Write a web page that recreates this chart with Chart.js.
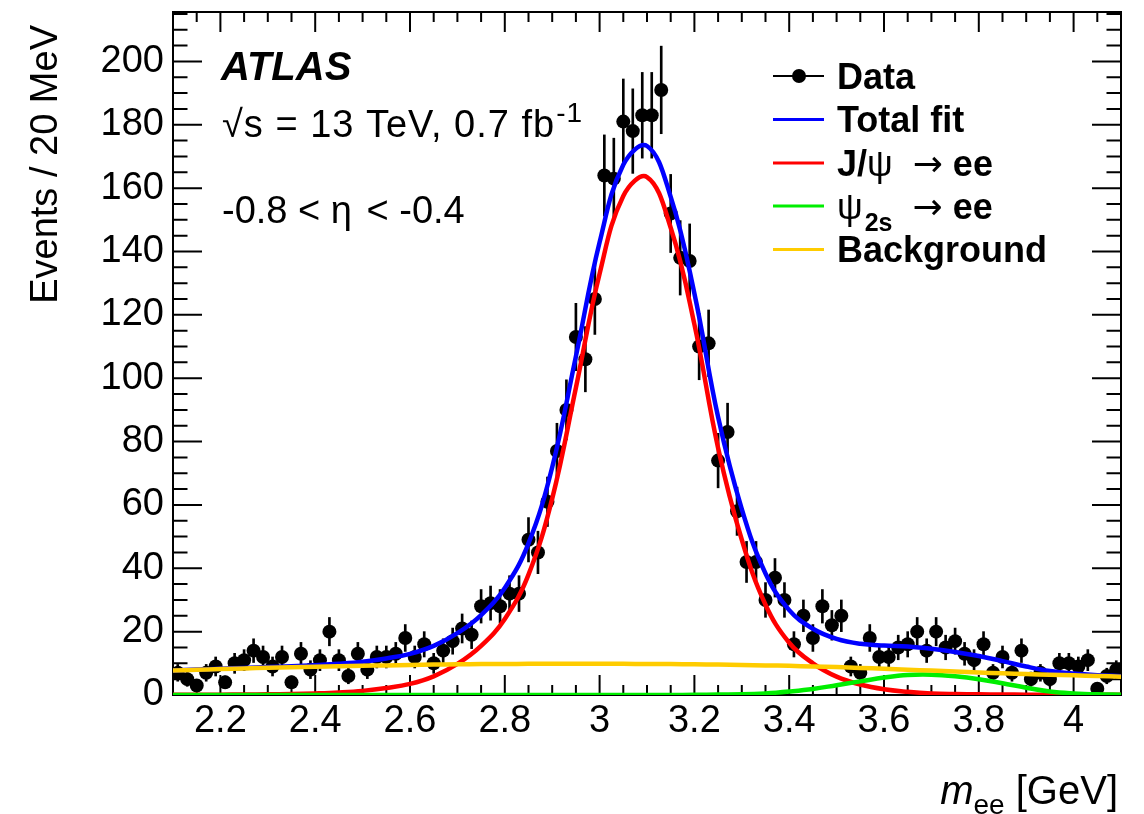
<!DOCTYPE html>
<html>
<head>
<meta charset="utf-8">
<script src="https://cdn.jsdelivr.net/npm/chart.js@4.4.1/dist/chart.umd.min.js"></script>
<style>
  html, body { margin: 0; padding: 0; background: #fff; }
  #wrap { width: 1144px; height: 814px; }
</style>
</head>
<body>
<div id="wrap"><canvas id="massChart" width="1144" height="814"></canvas></div>
<script>
const FONT = '"Liberation Sans", Arial, Helvetica, sans-serif';

// 20 MeV bins, centres in GeV
const massBins = [
  2.11, 2.13, 2.15, 2.17, 2.19, 2.21, 2.23, 2.25, 2.27, 2.29,
  2.31, 2.33, 2.35, 2.37, 2.39, 2.41, 2.43, 2.45, 2.47, 2.49,
  2.51, 2.53, 2.55, 2.57, 2.59, 2.61, 2.63, 2.65, 2.67, 2.69,
  2.71, 2.73, 2.75, 2.77, 2.79, 2.81, 2.83, 2.85, 2.87, 2.89,
  2.91, 2.93, 2.95, 2.97, 2.99, 3.01, 3.03, 3.05, 3.07, 3.09,
  3.11, 3.13, 3.15, 3.17, 3.19, 3.21, 3.23, 3.25, 3.27, 3.29,
  3.31, 3.33, 3.35, 3.37, 3.39, 3.41, 3.43, 3.45, 3.47, 3.49,
  3.51, 3.53, 3.55, 3.57, 3.59, 3.61, 3.63, 3.65, 3.67, 3.69,
  3.71, 3.73, 3.75, 3.77, 3.79, 3.81, 3.83, 3.85, 3.87, 3.89,
  3.91, 3.93, 3.95, 3.97, 3.99, 4.01, 4.03, 4.05, 4.07, 4.09
];
const eventCounts = [
  7, 5, 3, 7, 9, 4, 10, 11, 14, 12,
  9, 12, 4, 13, 8, 11, 20, 11, 6, 13,
  8, 12, 12, 13, 18, 12, 16, 10, 14, 17,
  21, 19, 28, 29, 28, 32, 32, 49, 45, 61,
  77, 90, 113, 106, 125, 164, 163, 181, 178, 183,
  183, 191, 152, 138, 137, 110, 111, 74, 83, 58,
  42, 42, 30, 37, 30, 16, 25, 18, 28, 22,
  25, 9, 7, 18, 12, 12, 15, 16, 20, 14,
  20, 15, 17, 13, 11, 16, 7, 12, 7, 14,
  5, 7, 5, 10, 10, 9, 11, 2, 6, 8
];

// fit curves, every 50 MeV
const curveX = [
  2.10, 2.15, 2.20, 2.25, 2.30, 2.35, 2.40, 2.45, 2.50, 2.55,
  2.60, 2.65, 2.70, 2.75, 2.80, 2.85, 2.90, 2.95, 3.00, 3.05,
  3.10, 3.15, 3.20, 3.25, 3.30, 3.35, 3.40, 3.45, 3.50, 3.55,
  3.60, 3.65, 3.70, 3.75, 3.80, 3.85, 3.90, 3.95, 4.00, 4.05, 4.10
];
const totalFit = [
  7.75, 8.02, 8.3, 8.55, 8.8, 9.05, 9.4, 9.85, 10.5, 11.55,
  13.0, 15.5, 19.5, 25.25, 33.8, 47.85, 71.9, 106.9, 142.9, 167.35,
  173.3, 157.25, 126.77, 87.75, 58.7, 38.35, 26.8, 20.9, 17.7, 16.15,
  15.6, 15.3, 14.6, 13.6, 12.3, 10.7, 9.0, 7.58, 6.76, 6.25, 5.95
];
const jpsiFit = [
  0.05, 0.07, 0.1, 0.15, 0.2, 0.3, 0.5, 0.8, 1.3, 2.2,
  3.5, 5.9, 9.8, 15.5, 24, 38, 62, 97, 133, 157.5,
  163.5, 147.5, 117, 78, 49, 28.5, 16.5, 10, 5.8, 3.3,
  1.8, 1.0, 0.5, 0.3, 0.2, 0.15, 0.1, 0.08, 0.06, 0.05, 0.05
];
const psi2sFit = [
  0, 0, 0, 0, 0, 0, 0, 0, 0, 0,
  0, 0, 0, 0, 0, 0, 0, 0, 0, 0,
  0, 0, 0.07, 0.15, 0.2, 0.5, 1.1, 1.9, 3.1, 4.3,
  5.5, 6.3, 6.4, 5.9, 5.0, 3.7, 2.3, 1.1, 0.5, 0.2, 0.1
];
const bgFit = [
  7.7, 7.95, 8.2, 8.4, 8.6, 8.75, 8.9, 9.05, 9.2, 9.35,
  9.5, 9.6, 9.7, 9.75, 9.8, 9.85, 9.9, 9.9, 9.9, 9.85,
  9.8, 9.75, 9.7, 9.6, 9.5, 9.35, 9.2, 9.0, 8.8, 8.55,
  8.3, 8.0, 7.7, 7.4, 7.1, 6.85, 6.6, 6.4, 6.2, 6.0, 5.8
];

const xTickValues = [2.2, 2.4, 2.6, 2.8, 3, 3.2, 3.4, 3.6, 3.8, 4];
const xTickLabels = ['2.2', '2.4', '2.6', '2.8', '3', '3.2', '3.4', '3.6', '3.8', '4'];
const yTickValues = [0, 20, 40, 60, 80, 100, 120, 140, 160, 180, 200];
const yTickLabels = ['0', '20', '40', '60', '80', '100', '120', '140', '160', '180', '200'];

const BLUE = '#0000ff', RED = '#ff0000', GREEN = '#00ee00', ORANGE = '#ffcc00';

function pts(ys) {
  return curveX.map((x, i) => ({ x: x, y: ys[i] }));
}

const dataPoints = massBins.map((x, i) => ({ x: x, y: eventCounts[i] }));
const errorBars = massBins.map((x, i) => {
  const e = Math.sqrt(eventCounts[i]);
  return { x: x, y: [eventCounts[i] - e, eventCounts[i] + e] };
});

function fnt(size, style, family) {
  return (style ? style + ' ' : '') + size + 'px ' + (family || FONT);
}

function drawRuns(ctx, x, y, runs, align) {
  let w = 0;
  runs.forEach(r => { ctx.font = r.font; w += ctx.measureText(r.text).width + (r.gap || 0); });
  let cx = align === 'right' ? x - w : x;
  runs.forEach(r => {
    ctx.font = r.font;
    cx += r.gap || 0;
    ctx.fillText(r.text, cx, y + (r.dy || 0));
    cx += ctx.measureText(r.text).width;
  });
}

// ROOT style frame with inward ticks on all four sides
const rootFrame = {
  id: 'rootFrame',
  beforeDatasetsDraw(chart) {
    const { ctx, chartArea: a } = chart;
    const xs = chart.scales.x, ys = chart.scales.y;
    ctx.save();
    ctx.strokeStyle = '#000';
    ctx.lineWidth = 2;
    ctx.strokeRect(a.left, a.top, a.right - a.left, a.bottom - a.top);
    ctx.beginPath();
    for (let i = 0; i <= 40; i++) {
      const px = xs.getPixelForValue(2.1 + i * 0.05);
      const len = i % 4 === 2 ? 20 : 10;
      ctx.moveTo(px, a.bottom); ctx.lineTo(px, a.bottom - len);
      ctx.moveTo(px, a.top); ctx.lineTo(px, a.top + len);
    }
    for (let v = 0; v <= 215; v += 5) {
      const py = ys.getPixelForValue(v);
      const len = v % 20 === 0 ? 29 : 14.5;
      ctx.moveTo(a.left, py); ctx.lineTo(a.left + len, py);
      ctx.moveTo(a.right, py); ctx.lineTo(a.right - len, py);
    }
    ctx.stroke();
    ctx.restore();
  }
};

const labelsAndLegend = {
  id: 'labelsAndLegend',
  afterDraw(chart) {
    const ctx = chart.ctx;
    const ds = chart.data.datasets;
    ctx.save();
    ctx.fillStyle = '#000';
    ctx.textBaseline = 'alphabetic';
    ctx.textAlign = 'left';

    // axis titles
    drawRuns(ctx, 1118, 804, [
      { text: 'm', font: fnt(40, 'italic') },
      { text: 'ee', font: fnt(28), dy: 10 },
      { text: ' [GeV]', font: fnt(40) }
    ], 'right');
    ctx.save();
    ctx.translate(57, 25);
    ctx.rotate(-Math.PI / 2);
    ctx.textAlign = 'right';
    ctx.font = fnt(38);
    ctx.fillText('Events / 20 MeV', 0, 0);
    ctx.restore();

    // ATLAS labels
    ctx.font = fnt(40, 'italic bold');
    ctx.fillText('ATLAS', 221, 80);
    ctx.save();
    ctx.letterSpacing = '1px';
    drawRuns(ctx, 222, 137, [
      { text: '\u221As = 13 TeV, 0.7 fb', font: fnt(38) },
      { text: '-1', font: fnt(28), dy: -15, gap: 1 }
    ]);
    ctx.restore();
    drawRuns(ctx, 222, 223, [
      { text: '-0.8 < \u03B7', font: fnt(38) },
      { text: ' < -0.4', font: fnt(38), gap: 4 }
    ]);

    // legend
    const rows = [76, 119.5, 163, 206, 249.5];
    const B = fnt(36, 'bold'), N = fnt(36);
    const ARROW = fnt(36, '', '"DejaVu Sans", sans-serif');
    const entries = [
      { ds: 1, runs: [{ text: 'Data', font: B }] },
      { ds: 2, runs: [{ text: 'Total fit', font: B }] },
      { ds: 3, runs: [{ text: 'J/', font: B }, { text: '\u03C8', font: N },
                      { text: '\u2192', font: ARROW, gap: 20 }, { text: ' ee', font: B }] },
      { ds: 4, runs: [{ text: '\u03C8', font: N }, { text: '2s', font: fnt(25, 'bold'), dy: 12, gap: 2 },
                      { text: '\u2192', font: ARROW, gap: 20 }, { text: ' ee', font: B }] },
      { ds: 5, runs: [{ text: 'Background', font: B }] }
    ];
    entries.forEach((e, k) => {
      const cy = rows[k];
      const d = ds[e.ds];
      ctx.beginPath();
      ctx.strokeStyle = e.ds === 1 ? '#000' : d.borderColor;
      ctx.lineWidth = e.ds === 1 ? 2 : 3;
      ctx.moveTo(773, cy); ctx.lineTo(824, cy);
      ctx.stroke();
      if (e.ds === 1) {
        ctx.beginPath();
        ctx.arc(799, cy, 7, 0, Math.PI * 2);
        ctx.fill();
      }
      drawRuns(ctx, 837, cy + 12.5, e.runs);
    });
    ctx.restore();
  }
};

new Chart(document.getElementById('massChart').getContext('2d'), {
  type: 'line',
  data: {
    datasets: [
      {
        type: 'bar',
        label: 'errors',
        data: errorBars,
        backgroundColor: '#000',
        barThickness: 2,
        order: 6
      },
      {
        label: 'Data',
        data: dataPoints,
        showLine: false,
        pointRadius: 7,
        pointBackgroundColor: '#000',
        pointBorderWidth: 0,
        order: 5
      },
      {
        label: 'Total fit',
        data: pts(totalFit),
        borderColor: BLUE,
        borderWidth: 4.5,
        pointRadius: 0,
        tension: 0.4,
        fill: false,
        order: 4
      },
      {
        label: 'J/psi',
        data: pts(jpsiFit),
        borderColor: RED,
        borderWidth: 4.5,
        pointRadius: 0,
        tension: 0.4,
        fill: false,
        order: 3
      },
      {
        label: 'psi2s',
        data: pts(psi2sFit),
        borderColor: GREEN,
        borderWidth: 4.5,
        pointRadius: 0,
        tension: 0.4,
        fill: false,
        order: 2
      },
      {
        label: 'Background',
        data: pts(bgFit),
        borderColor: ORANGE,
        borderWidth: 4.5,
        pointRadius: 0,
        tension: 0.4,
        fill: false,
        order: 1
      }
    ]
  },
  options: {
    responsive: false,
    animation: false,
    devicePixelRatio: 1,
    layout: { padding: { left: 0, right: 23, top: 12, bottom: 0 } },
    plugins: {
      legend: { display: false },
      tooltip: { enabled: false }
    },
    scales: {
      x: {
        type: 'linear',
        min: 2.1,
        max: 4.1,
        offset: false,
        grid: { display: false, drawTicks: false, offset: false },
        border: { display: false },
        afterFit: s => { s.height = 119; s.paddingLeft = 0; s.paddingRight = 0; },
        afterBuildTicks: s => { s.ticks = xTickValues.map(v => ({ value: v })); },
        ticks: {
          padding: 4,
          color: '#000',
          font: { family: FONT, size: 38 },
          maxRotation: 0,
          autoSkip: false,
          callback: (v) => xTickLabels[xTickValues.indexOf(v)]
        }
      },
      y: {
        min: 0,
        max: 215.6,
        grid: { display: false, drawTicks: false },
        border: { display: false },
        afterFit: s => { s.width = 173; s.paddingTop = 0; s.paddingBottom = 0; },
        afterBuildTicks: s => { s.ticks = yTickValues.map(v => ({ value: v })); },
        ticks: {
          padding: 9,
          color: '#000',
          font: { family: FONT, size: 38 },
          autoSkip: false,
          callback: (v) => yTickLabels[yTickValues.indexOf(v)]
        }
      }
    }
  },
  plugins: [rootFrame, labelsAndLegend]
});
</script>
</body>
</html>
